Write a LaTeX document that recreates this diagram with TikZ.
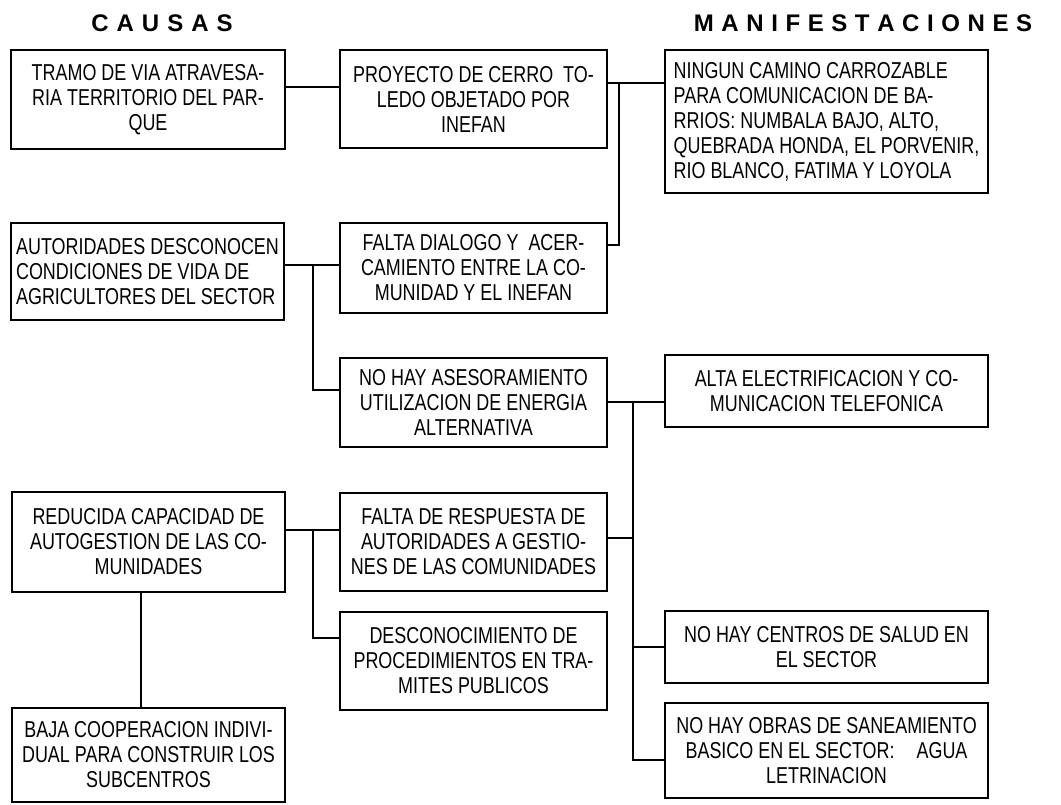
\documentclass[tikz,border=0pt]{standalone}
\usepackage{fontspec}
\setmainfont{Liberation Sans}[FakeStretch=0.78]
\newfontfamily\titlefont{Liberation Sans}
\tikzset{
  box/.style={draw, line width=1.6pt, inner sep=0pt, align=center,
    font=\fontsize{23}{25}\selectfont},
  lbox/.style={box, align=left},
  conn/.style={line width=1.6pt},
  ttl/.style={font=\titlefont\bfseries\fontsize{24}{26}\selectfont, inner sep=0pt}
}
\begin{document}
\begin{tikzpicture}[x=1pt,y=-1pt]
\useasboundingbox (0,0) rectangle (1061,805);
\node[ttl] (t1) at (162,23) {\spaceskip=8pt\relax C A U S A S};
\node[ttl] (t2) at (863,23) {\spaceskip=7.6pt\relax M A N I F E S T A C I O N E S};

% left column
\node[box, minimum width=274pt, minimum height=99pt] (L1) at (148,99.5)
  {TRAMO DE VIA ATRAVESA-\\RIA TERRITORIO DEL PAR-\\QUE};
\node[lbox, minimum width=273pt, minimum height=97pt] (L2) at (147.5,271.5)
  {AUTORIDADES DESCONOCEN\\CONDICIONES DE VIDA DE\\AGRICULTORES DEL SECTOR};
\node[box, minimum width=273pt, minimum height=100pt] (L3) at (148.5,542)
  {REDUCIDA CAPACIDAD DE\\AUTOGESTION DE LAS CO-\\MUNIDADES};
\node[box, minimum width=273pt, minimum height=94pt] (L4) at (148.5,755)
  {BAJA COOPERACION INDIVI-\\DUAL PARA CONSTRUIR LOS\\SUBCENTROS};

% middle column
\node[box, minimum width=267pt, minimum height=98pt] (M1) at (473.5,99)
  {PROYECTO DE CERRO\ \ TO-\\LEDO OBJETADO POR\\INEFAN};
\node[box, minimum width=267pt, minimum height=90pt] (M2) at (473.5,268)
  {FALTA DIALOGO Y\ \ ACER-\\CAMIENTO ENTRE LA CO-\\MUNIDAD Y EL INEFAN};
\node[box, minimum width=267pt, minimum height=89pt] (M3) at (473.5,402.5)
  {NO HAY ASESORAMIENTO\\UTILIZACION DE ENERGIA\\ALTERNATIVA};
\node[box, minimum width=267pt, minimum height=98pt] (M4) at (473.5,542)
  {FALTA DE RESPUESTA DE\\AUTORIDADES A GESTIO-\\NES DE LAS COMUNIDADES};
\node[box, minimum width=267pt, minimum height=98pt] (M5) at (473.5,661)
  {DESCONOCIMIENTO DE\\PROCEDIMIENTOS EN TRA-\\MITES PUBLICOS};

% right column
\node[lbox, minimum width=323pt, minimum height=143pt] (R1) at (826.5,121.5)
  {NINGUN CAMINO CARROZABLE\\PARA COMUNICACION DE BA-\\RRIOS: NUMBALA BAJO, ALTO,\\QUEBRADA HONDA, EL PORVENIR,\\RIO BLANCO, FATIMA Y LOYOLA};
\node[box, minimum width=323pt, minimum height=72pt] (R2) at (826.5,391)
  {ALTA ELECTRIFICACION Y CO-\\MUNICACION TELEFONICA};
\node[box, minimum width=323pt, minimum height=72pt] (R3) at (826.5,647)
  {NO HAY CENTROS DE SALUD EN\\EL SECTOR};
\node[box, minimum width=323pt, minimum height=95pt] (R4) at (826.5,750.5)
  {NO HAY OBRAS DE SANEAMIENTO\\BASICO EN EL SECTOR:\hspace{22pt}AGUA\\LETRINACION};

% connectors
\coordinate (a) at (300,87);
\draw[conn] (L1.east |- a) -- (M1.west |- a);
\coordinate (b) at (619,83);
\coordinate (b2) at (619,245);
\draw[conn] (M1.east |- b) -- (R1.west |- b);
\draw[conn] (b) -- (b2) -- (M2.east |- b2);
\coordinate (c) at (313,265);
\coordinate (c2) at (313,390);
\draw[conn] (L2.east |- c) -- (M2.west |- c);
\draw[conn] (c) -- (c2) -- (M3.west |- c2);
\coordinate (d) at (633,402);
\coordinate (d2) at (633,538);
\coordinate (d3) at (633,647);
\coordinate (d4) at (633,760);
\draw[conn] (M3.east |- d) -- (R2.west |- d);
\draw[conn] (d) -- (d4) -- (R4.west |- d4);
\draw[conn] (M4.east |- d2) -- (d2);
\draw[conn] (d3) -- (R3.west |- d3);
\coordinate (e) at (313,530);
\coordinate (e2) at (313,638);
\draw[conn] (L3.east |- e) -- (M4.west |- e);
\draw[conn] (e) -- (e2) -- (M5.west |- e2);
\coordinate (f) at (141,650);
\draw[conn] (L3.south -| f) -- (L4.north -| f);
\end{tikzpicture}
\end{document}
